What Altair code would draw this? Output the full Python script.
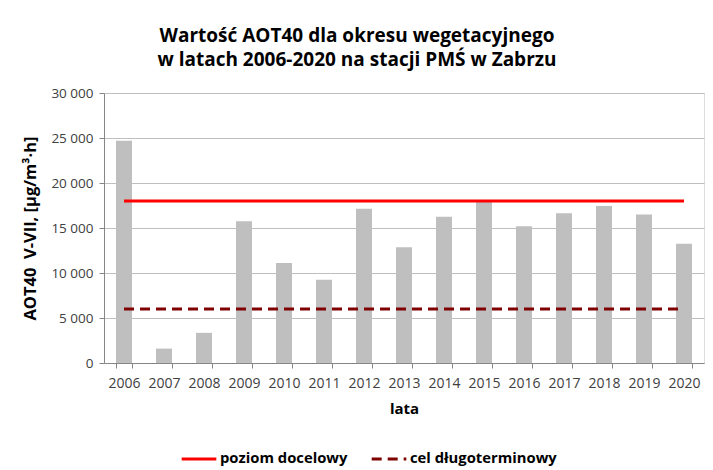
import altair as alt
import pandas as pd

years = [str(y) for y in range(2006, 2021)]
aot40 = [24700, 1600, 3350, 15750, 11100, 9250, 17150, 12850, 16250, 18050,
         15200, 16650, 17450, 16500, 13250]

series_names = ["poziom docelowy", "cel długoterminowy"]
series_levels = [18000, 6000]
series_colors = ["#ff0000", "#7f0000"]

bars_df = pd.DataFrame({"rok": years, "AOT40": aot40})
lines_df = pd.DataFrame({
    "rok": [years[0], years[-1]] * 2,
    "poziom": [series_levels[0]] * 2 + [series_levels[1]] * 2,
    "seria": [series_names[0]] * 2 + [series_names[1]] * 2,
})

FONT = "Open Sans"
y_title = "AOT40\u00a0\u00a0V-VII, [µg/m³·h]"

legend_cfg = dict(
    title=None,
    orient="none",
    legendX=76,
    legendY=347,
    direction="horizontal",
    symbolType="stroke",
    symbolSize=1200,
    symbolStrokeWidth=3,
    labelFont=FONT,
    labelFontSize=14.8,
    labelFontWeight="bold",
    labelColor="#000000",
    labelOffset=2,
    columnPadding=17,
    labelLimit=300,
)

x_enc = alt.X(
    "rok:N",
    sort=years,
    title="lata",
    scale=alt.Scale(paddingInner=0.6, paddingOuter=0.3),
    axis=alt.Axis(
        labelAngle=0,
        tickBand="extent",
        tickSize=5,
        tickColor="#868686",
        domainColor="#868686",
        labelColor="#404040",
        labelFont=FONT,
        labelFontSize=14,
        labelPadding=8,
        titleFont=FONT,
        titleFontSize=15,
        titleFontWeight="bold",
        titleColor="#000000",
        titlePadding=11,
    ),
)

bars = alt.Chart(bars_df).mark_bar(color="#bfbfbf").encode(
    x=x_enc,
    y=alt.Y(
        "AOT40:Q",
        title=y_title,
        scale=alt.Scale(domain=[0, 30000], nice=False),
        axis=alt.Axis(
            values=[0, 5000, 10000, 15000, 20000, 25000, 30000],
            labelExpr="replace(format(datum.value, ','), ',', ' ')",
            grid=True,
            gridColor="#bfbfbf",
            gridWidth=1,
            tickSize=5,
            tickColor="#868686",
            domainColor="#868686",
            labelColor="#404040",
            labelFont=FONT,
            labelFontSize=13.5,
            labelPadding=6,
            titleFont=FONT,
            titleFontSize=16.5,
            titleFontWeight="bold",
            titleColor="#000000",
            titlePadding=12,
        ),
    ),
)

lines = alt.Chart(lines_df).mark_line(strokeWidth=3).encode(
    x=alt.X("rok:N", sort=years),
    y=alt.Y("poziom:Q"),
    color=alt.Color(
        "seria:N",
        sort=series_names,
        scale=alt.Scale(domain=series_names, range=series_colors),
        legend=alt.Legend(**legend_cfg),
    ),
    strokeDash=alt.StrokeDash(
        "seria:N",
        sort=series_names,
        scale=alt.Scale(domain=series_names, range=[[1, 0], [10, 6]]),
        legend=alt.Legend(**legend_cfg),
    ),
)

chart = alt.layer(bars, lines).properties(
    width=600,
    height=270,
    autosize=alt.AutoSizeParams(type="none"),
    padding={"left": 96, "top": 85, "right": 1, "bottom": 105},
    title=alt.TitleParams(
        text=["Wartość AOT40 dla okresu wegetacyjnego",
              "w latach 2006-2020 na stacji PMŚ w Zabrzu"],
        font=FONT,
        fontSize=19,
        fontWeight="bold",
        color="#000000",
        anchor="middle",
        dx=-47,
        offset=16,
        lineHeight=24,
    ),
).configure_view(stroke="#bfbfbf", strokeWidth=1).configure(background="#ffffff")

chart.save("out.html", embed_options={"renderer": "svg", "actions": False})
